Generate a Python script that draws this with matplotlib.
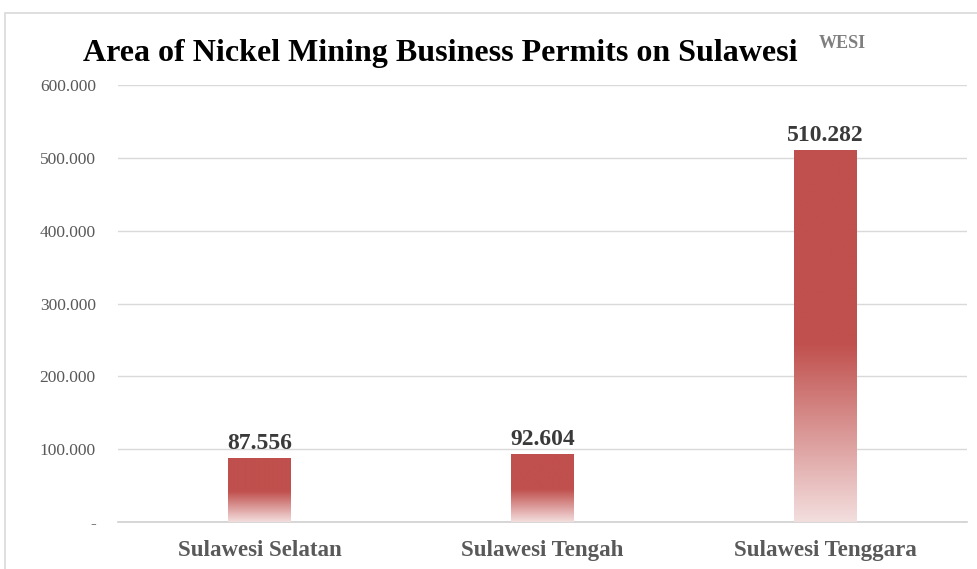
import matplotlib.pyplot as plt
import numpy as np
from matplotlib.colors import LinearSegmentedColormap
from matplotlib.patches import Rectangle

#-------------------------------------------------------------------------------
# Data
provinces = ['Sulawesi Selatan', 'Sulawesi Tengah', 'Sulawesi Tenggara']
permit_area = [87556, 92604, 510282]
value_labels = ['87.556', '92.604', '510.282']
y_ticks = [0, 100000, 200000, 300000, 400000, 500000, 600000]
y_tick_labels = ['-', '100.000', '200.000', '300.000', '400.000', '500.000', '600.000']

#-------------------------------------------------------------------------------
bar_red = '#C0504D'
light_red = '#F3DEDE'
# gradient: light at the bottom, solid red from ~half of the bar upward
cmap = LinearSegmentedColormap.from_list(
    'bar_fade', [(0.0, light_red), (0.48, bar_red), (1.0, bar_red)])

fig = plt.figure(figsize=(9.77, 5.69), dpi=100)

# light gray frame around the chart area
fig.patches.append(Rectangle((5 / 977, -0.05), 1.2, 1 - 13 / 569 + 0.05,
                             transform=fig.transFigure, fill=False,
                             edgecolor='#D9D9D9', lw=1.2))

ax = fig.add_axes([118 / 977, 1 - 522 / 569, 849 / 977, (522 - 85) / 569])

x = np.arange(len(provinces))
bars = ax.bar(x, permit_area, width=0.22, color='none', edgecolor='none', zorder=3)

grad = np.linspace(0, 1, 256).reshape(-1, 1)
for b, lab in zip(bars, value_labels):
    x0, w, h = b.get_x(), b.get_width(), b.get_height()
    ax.imshow(grad, cmap=cmap, origin='lower', aspect='auto',
              extent=[x0, x0 + w, 0, h], zorder=3, interpolation='bicubic')
    ax.text(x0 + w / 2, h + 6000, lab, ha='center', va='bottom',
            fontsize=17, fontweight='bold', color='#3A3A3A',
            family='Liberation Serif')

ax.set_xlim(-0.5, 2.5)
ax.set_ylim(0, 600000)
ax.set_aspect('auto')

ax.set_yticks(y_ticks)
ax.set_yticklabels(y_tick_labels, fontsize=12.5, color='#595959',
                   family='Liberation Serif')
ax.set_xticks(x)
ax.set_xticklabels(provinces, fontsize=16.5, fontweight='bold', color='#595959',
                   family='Liberation Serif')
ax.tick_params(axis='both', length=0)
ax.tick_params(axis='y', pad=16)
ax.tick_params(axis='x', pad=13)

ax.grid(axis='y', color='#D9D9D9', lw=1, zorder=0)
for s in ['top', 'right', 'left']:
    ax.spines[s].set_visible(False)
ax.spines['bottom'].set_color('#D0D0D0')
ax.spines['bottom'].set_linewidth(1.2)

# title
fig.text(440 / 977, 1 - 53 / 569, 'Area of Nickel Mining Business Permits on Sulawesi',
         ha='center', va='center', fontsize=23, fontweight='bold',
         family='Liberation Serif', color='black')
fig.text(842 / 977, 1 - 44 / 569, 'WESI', ha='center', va='center',
         fontsize=13, fontweight='bold', family='Liberation Serif',
         color='#7F7F7F')

plt.savefig('out.png', dpi=100)
